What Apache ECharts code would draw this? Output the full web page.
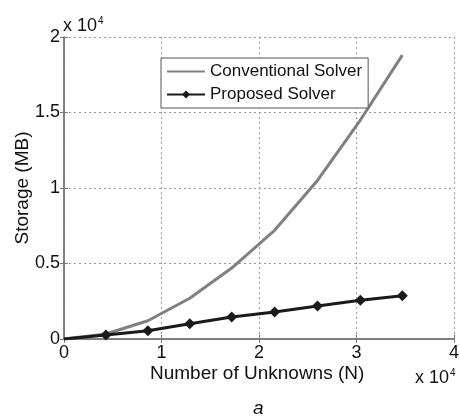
<!DOCTYPE html>
<html>
<head>
<meta charset="utf-8">
<script src="https://cdn.jsdelivr.net/npm/echarts@6/dist/echarts.min.js"></script>
<style>html,body{margin:0;padding:0;background:#fff;}#c{width:460px;height:416px;}</style>
</head>
<body>
<div id="c"></div>
<script>
var unknowns = [0, 4300, 8600, 12900, 17200, 21600, 26000, 30400, 34700];
var conventional = [0, 330, 1210, 2700, 4700, 7200, 10500, 14500, 18800];
var proposed = [0, 265, 550, 1010, 1450, 1790, 2180, 2560, 2870];
var xTicks = [0, 10000, 20000, 30000, 40000];
var yTicks = [0, 5000, 10000, 15000, 20000];
var seriesNames = ['Conventional Solver', 'Proposed Solver'];

var FONT = 'Liberation Sans, Arial, sans-serif';
var chart = echarts.init(document.getElementById('c'));
function pairs(ys) { return unknowns.map(function (x, i) { return [x, ys[i]]; }); }
var propData = pairs(proposed).map(function (p, i) {
  return i === 0 ? { value: p, symbol: 'none' } : p;
});
var axisCommon = {
  type: 'value',
  axisLine: { show: true, lineStyle: { color: '#7a7a7a', width: 1.5 } },
  axisTick: { show: true, inside: true, length: 4, lineStyle: { color: '#7a7a7a' } },
  splitLine: { show: false }
};
var sup = {
  a: { fontFamily: FONT, fontSize: 18, fill: '#111' },
  b: { fontFamily: FONT, fontSize: 10, fill: '#111', verticalAlign: 'top', padding: [0, 0, 10, 1] }
};
chart.setOption({
  animation: false,
  backgroundColor: '#fff',
  grid: { left: 64, right: 6, top: 37, bottom: 77, show: false, containLabel: false, outerBoundsMode: 'none' },
  xAxis: [
    Object.assign({}, axisCommon, {
      min: xTicks[0], max: xTicks[xTicks.length - 1], interval: xTicks[1] - xTicks[0],
      axisLabel: { color: '#111', fontFamily: FONT, fontSize: 18, margin: 5,
        formatter: function (v) { return String(v / 1e4); } },
      splitLine: { show: true, lineStyle: { color: '#9a9a9a', type: [2, 3], width: 1 } }
    }),
    Object.assign({}, axisCommon, {
      position: 'top', min: xTicks[0], max: xTicks[xTicks.length - 1], interval: xTicks[1] - xTicks[0],
      axisLabel: { show: false }
    })
  ],
  yAxis: [
    Object.assign({}, axisCommon, {
      min: yTicks[0], max: yTicks[yTicks.length - 1], interval: yTicks[1] - yTicks[0],
      axisLabel: { color: '#111', fontFamily: FONT, fontSize: 18, margin: 4,
        formatter: function (v) { return String(v / 1e4); } },
      splitLine: { show: true, lineStyle: { color: '#9a9a9a', type: [2, 3], width: 1 } },
      name: 'Storage (MB)', nameLocation: 'middle', nameGap: 32, nameMoveOverlap: false,
      nameTextStyle: { color: '#111', fontFamily: FONT, fontSize: 19 }
    }),
    Object.assign({}, axisCommon, {
      position: 'right', min: yTicks[0], max: yTicks[yTicks.length - 1], interval: yTicks[1] - yTicks[0],
      axisLabel: { show: false }
    })
  ],
  legend: {
    orient: 'vertical', left: 161, top: 58,
    data: [{ name: seriesNames[0], itemStyle: { opacity: 0 } }, { name: seriesNames[1] }],
    itemWidth: 38, itemHeight: 10, itemGap: 6,
    padding: [5, 6, 5, 5],
    backgroundColor: '#fff', borderColor: '#555', borderWidth: 1,
    textStyle: { color: '#111', fontFamily: FONT, fontSize: 17 }
  },
  graphic: [
    { type: 'text', left: 63, top: 16, style: { text: '{a|x 10}{b|4}', rich: sup } },
    { type: 'text', left: 415, top: 368, style: { text: '{a|x 10}{b|4}', rich: sup } },
    { type: 'text', left: 150, top: 364, style: {
        text: 'Number of Unknowns (N)', fill: '#111', font: '19px ' + FONT } },
    { type: 'text', left: 253, top: 399, style: {
        text: 'a', fill: '#111', font: 'italic 19px ' + FONT } }
  ],
  series: [
    { name: seriesNames[0], type: 'line', data: pairs(conventional), symbol: 'none',
      lineStyle: { color: '#808080', width: 3 }, itemStyle: { color: '#808080' }, z: 3 },
    { name: seriesNames[1], type: 'line', data: propData, symbol: 'diamond', symbolSize: 11,
      lineStyle: { color: '#1a1a1a', width: 3 }, itemStyle: { color: '#1a1a1a' }, z: 4 }
  ]
});
</script>
</body>
</html>
